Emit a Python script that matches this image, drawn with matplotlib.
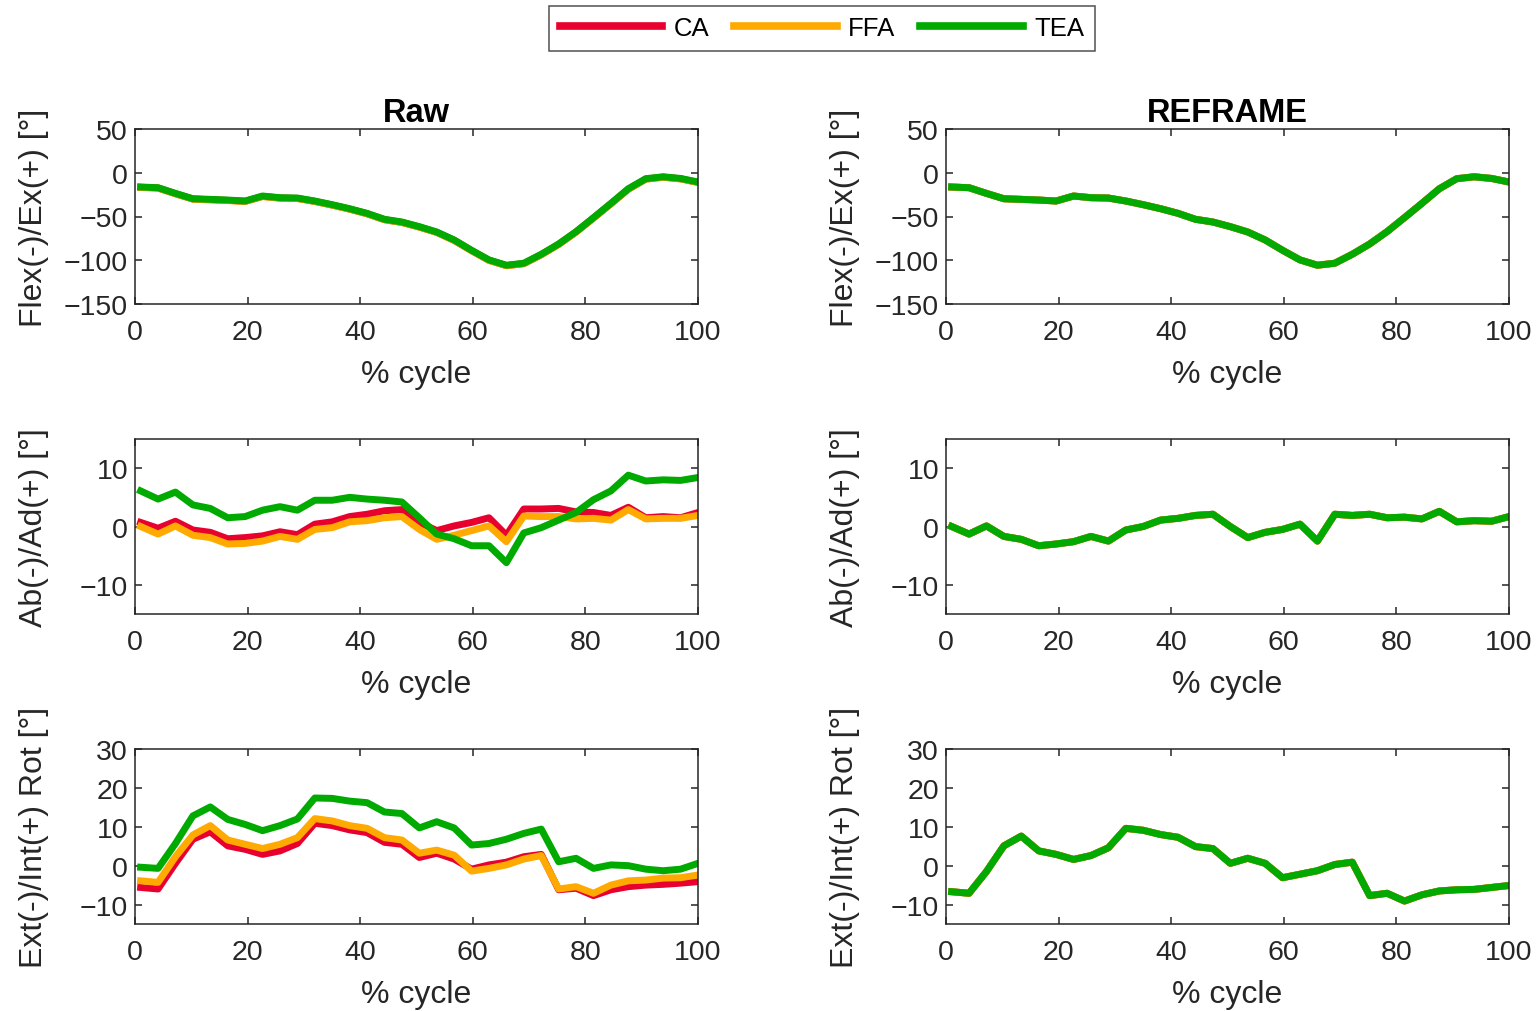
import numpy as np
import matplotlib
matplotlib.use('Agg')
import matplotlib.pyplot as plt

# % cycle samples (33 points)
cycle = np.linspace(1, 100, 33)

# Flexion / extension (raw and REFRAME look the same)
flex_tea = [-16.3, -17.1, -23.6, -29.7, -30.4, -31.2, -32.3, -26.6, -28.5, -28.9, -32.3,
            -36.5, -41.1, -46.4, -53.2, -56.3, -61.6, -67.7, -76.8, -88.6, -99.6, -105.7,
            -103.4, -93.2, -81.4, -67.3, -51.3, -35.0, -18.3, -6.8, -4.6, -6.5, -10.6]
flex_ca = [-16.6, -17.4, -23.9, -30.0, -30.8, -31.6, -32.6, -27.0, -28.9, -29.3, -32.7,
           -36.9, -41.5, -46.8, -53.6, -56.7, -62.0, -68.1, -77.2, -89.0, -100.0, -106.1,
           -103.8, -93.6, -81.8, -67.7, -51.7, -35.4, -18.7, -7.2, -5.0, -6.9, -11.0]
flex_ffa = [-16.8, -17.6, -24.1, -30.2, -31.0, -31.8, -32.8, -27.2, -29.1, -29.5, -32.9,
            -37.1, -41.7, -47.0, -53.8, -56.9, -62.2, -68.3, -77.4, -89.2, -100.2, -106.3,
            -104.0, -93.8, -82.0, -67.9, -51.9, -35.6, -18.9, -7.4, -5.2, -7.1, -11.2]

# Abduction / adduction
abd_ca_raw = [0.7, -0.3, 0.9, -0.6, -1.0, -2.1, -1.9, -1.6, -0.9, -1.4, 0.4, 0.8, 1.7, 2.1,
              2.7, 2.9, 0.7, -0.7, 0.1, 0.7, 1.5, -1.5, 3.0, 3.0, 3.1, 2.5, 2.4, 1.9, 3.3,
              1.5, 1.7, 1.5, 2.4]
abd_ffa_raw = [0.0, -1.3, 0.1, -1.5, -1.9, -3.0, -2.9, -2.5, -1.7, -2.2, -0.5, -0.2, 0.8, 1.0,
               1.5, 1.7, -0.5, -2.2, -1.5, -0.7, 0.1, -2.6, 1.8, 1.7, 1.7, 1.3, 1.4, 1.1, 2.9,
               1.3, 1.4, 1.4, 1.9]
abd_tea_raw = [6.1, 4.7, 5.9, 3.7, 3.1, 1.5, 1.7, 2.8, 3.4, 2.8, 4.5, 4.5, 5.0, 4.7, 4.5, 4.2,
               1.5, -1.3, -2.1, -3.3, -3.3, -6.2, -1.1, -0.2, 1.1, 2.4, 4.6, 6.1, 8.8, 7.8,
               8.0, 7.9, 8.4]
abd_reframe = [0.0, -1.3, 0.1, -1.7, -2.2, -3.3, -3.0, -2.6, -1.7, -2.5, -0.6, 0.0, 1.1, 1.4,
               1.9, 2.1, 0.0, -1.9, -1.0, -0.5, 0.4, -2.5, 2.1, 1.9, 2.1, 1.5, 1.6, 1.3, 2.6,
               0.8, 1.0, 0.9, 1.7]

# External / internal rotation
rot_ca_raw = [-5.6, -6.0, 0.6, 6.8, 8.7, 5.1, 4.2, 2.9, 3.8, 5.7, 10.9, 10.3, 9.2, 8.5, 6.0,
              5.5, 2.1, 3.2, 1.7, -0.9, 0.2, 0.9, 2.3, 2.9, -6.2, -5.8, -7.7, -6.2, -5.4,
              -5.0, -4.8, -4.5, -4.1]
rot_ffa_raw = [-3.9, -4.3, 2.3, 7.9, 10.3, 6.6, 5.5, 4.4, 5.5, 7.2, 12.1, 11.5, 10.3, 9.6, 7.2,
               6.6, 3.2, 4.0, 2.7, -1.4, -0.7, 0.2, 1.7, 2.6, -6.0, -5.4, -7.1, -5.0, -3.9,
               -3.7, -3.2, -3.1, -2.4]
rot_tea_raw = [-0.4, -0.7, 5.7, 12.8, 15.1, 11.9, 10.6, 9.0, 10.3, 12.0, 17.4, 17.3, 16.6,
               16.2, 13.8, 13.4, 9.7, 11.3, 9.7, 5.3, 5.7, 6.8, 8.3, 9.4, 1.0, 1.9, -0.7, 0.2,
               0.0, -0.9, -1.3, -0.9, 0.6]
rot_reframe = [-6.7, -7.1, -1.5, 5.1, 7.6, 3.8, 2.9, 1.6, 2.6, 4.6, 9.6, 9.1, 8.0, 7.3, 4.9,
               4.4, 0.6, 1.9, 0.6, -3.1, -2.2, -1.3, 0.3, 0.9, -7.7, -7.1, -9.1, -7.5, -6.5,
               -6.2, -6.1, -5.6, -5.1]

names = ['CA', 'FFA', 'TEA']
colors = ['#e8002f', '#ffaa00', '#00aa00']

panels = [
    # (raw series, reframe series, ylim, yticks, ylabel)
    ([flex_ca, flex_ffa, flex_tea], [flex_tea] * 3, (-150, 50), [-150, -100, -50, 0, 50],
     'Flex(-)/Ex(+) [°]'),
    ([abd_ca_raw, abd_ffa_raw, abd_tea_raw], [abd_reframe] * 3, (-15, 15), [-10, 0, 10],
     'Ab(-)/Ad(+) [°]'),
    ([rot_ca_raw, rot_ffa_raw, rot_tea_raw], [rot_reframe] * 3, (-15, 30), [-10, 0, 10, 20, 30],
     'Ext(-)/Int(+) Rot [°]'),
]

plt.rcParams['font.family'] = ['Liberation Sans', 'DejaVu Sans']
tick_fs, label_fs, title_fs, leg_fs = 20.5, 23, 23.5, 18.5

W, H = 1540, 1012
fig = plt.figure(figsize=(W / 100, H / 100), dpi=100)

lefts = [135, 946]
tops = [130, 440, 750]
aw, ah = 563, 175
txt = '#262626'

handles = None
for r, (raw, refr, ylim, yticks, ylab) in enumerate(panels):
    for c, series in enumerate([raw, refr]):
        ax = fig.add_axes([lefts[c] / W, 1 - (tops[r] + ah) / H, aw / W, ah / H])
        lines = []
        for s, nm, col in zip(series, names, colors):
            ln, = ax.plot(cycle, s, color=col, lw=5, label=nm, solid_joinstyle='round')
            lines.append(ln)
        if handles is None:
            handles = lines
        ax.set_xlim(0, 100)
        ax.set_ylim(*ylim)
        ax.set_xticks([0, 20, 40, 60, 80, 100])
        ax.set_yticks(yticks)
        ax.tick_params(direction='in', top=True, right=True, length=5, width=1.1,
                       colors=txt, labelcolor=txt, labelsize=tick_fs)
        ax.tick_params(axis='x', pad=10.5)
        ax.tick_params(axis='y', pad=5)
        for sp in ax.spines.values():
            sp.set_color(txt)
            sp.set_linewidth(1.1)
        ax.set_xlabel('% cycle', color=txt, fontsize=label_fs)
        ax.xaxis.set_label_coords(0.5, -0.315)
        ax.set_ylabel(ylab, color=txt, fontsize=label_fs)
        ax.yaxis.set_label_coords(-0.152, 0.5)
        if r == 0:
            ax.set_title('Raw' if c == 0 else 'REFRAME', fontweight='bold',
                         fontsize=title_fs, pad=6)

leg = fig.legend(handles, names, loc='upper center', bbox_to_anchor=(822 / W, 1 - 7 / H),
                 ncol=3, frameon=True, fancybox=False, edgecolor=txt, handlelength=4.0,
                 handletextpad=0.45, columnspacing=0.95, borderpad=0.4, borderaxespad=0,
                 fontsize=leg_fs)
leg.get_frame().set_linewidth(1.1)
for ln in leg.get_lines():
    ln.set_linewidth(5.5)
for t in leg.get_texts():
    t.set_color('black')

fig.savefig('out.png', dpi=100, facecolor='white')
